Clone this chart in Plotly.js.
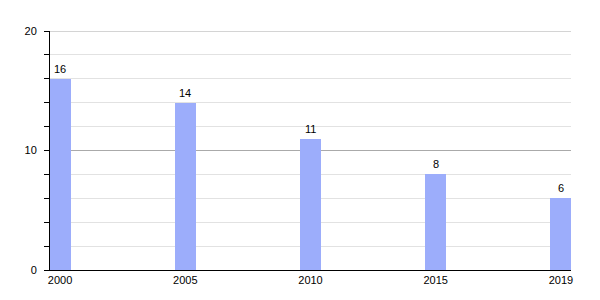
<!DOCTYPE html>
<html><head><meta charset="utf-8">
<script src="https://cdn.plot.ly/plotly-3.0.1.min.js"></script>
<style>html,body{margin:0;padding:0;background:#fff}</style>
</head><body><div id="chart" style="width:600px;height:300px"></div>
<script>
const years = ["2000", "2005", "2010", "2015", "2019"];
const values = [16, 14, 11, 8, 6];

const idx = years.map((_, i) => i);
const FONT = 'Liberation Sans, Arial, sans-serif';
Plotly.newPlot('chart', [{
  type: 'bar',
  x: idx,
  y: values,
  marker: {color: '#9cadfb'},
  width: 0.168,
  hoverinfo: 'none'
}], {
  width: 600, height: 300,
  margin: {l: 50, r: 29, t: 31, b: 30},
  paper_bgcolor: '#fff', plot_bgcolor: '#fff',
  font: {family: FONT, size: 11, color: '#000'},
  showlegend: false,
  bargap: 0,
  annotations: values.map((v, i) => ({
    x: idx[i], y: v, xref: 'x', yref: 'y',
    text: String(v), showarrow: false,
    yanchor: 'bottom', yshift: 2,
    font: {family: FONT, size: 11, color: '#000'}
  })),
  shapes: [{
    type: 'line', xref: 'paper', x0: 0, x1: 1, yref: 'y', y0: 20, y1: 20,
    line: {color: '#aaaaaa', width: 1}, layer: 'below'
  }],
  xaxis: {
    type: 'linear',
    range: [-0.08, 4.08],
    tickvals: idx,
    ticktext: years,
    showgrid: false,
    zeroline: false,
    showline: true, linecolor: '#000', linewidth: 1,
    ticks: '', ticklen: 0,
    tickfont: {size: 11}
  },
  yaxis: {
    range: [0, 20],
    dtick: 10,
    showline: true, linecolor: '#000', linewidth: 1,
    ticks: 'outside', ticklen: 5, tickcolor: '#000',
    ticklabelstandoff: 5,
    showgrid: true, gridcolor: '#aaaaaa',
    zeroline: false,
    tickfont: {size: 11},
    minor: {dtick: 2, ticks: 'outside', ticklen: 5, tickcolor: '#000', showgrid: true, gridcolor: '#e2e2e2'}
  }
}, {staticPlot: true});
</script></body></html>
